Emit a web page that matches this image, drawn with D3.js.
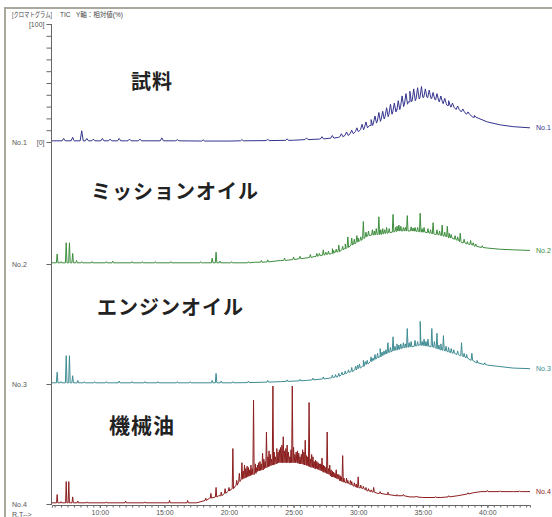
<!DOCTYPE html>
<html>
<head>
<meta charset="utf-8">
<script src="https://cdn.jsdelivr.net/npm/d3@7"></script>
<style>
  body { margin: 0; background: #fff; }
  svg { display: block; font-family: "Liberation Sans", Arial, "Noto Sans CJK JP", sans-serif; }
</style>
</head>
<body>
<div id="chart"></div>
<script>
// ---- data (time in minutes, intensity in relative %) ----
const traceNames = ["No.1", "No.2", "No.3", "No.4"];
const sampleTitles = ["試料", "ミッションオイル", "エンジンオイル", "機械油"];
const majorTicks = [10, 15, 20, 25, 30, 35, 40];
const timeRange = [6.3, 43.3];

// smooth baseline / hump of each trace
const env1 = [[6.3,1],[8,1.2],[12,1],[20,0.8],[25,1.5],[27,2.5],[28.5,4],[30,9],[31,14],[32,20],[33,27],[34,34],[35,38],[36,36],[37,31],[38,26],[39,21],[40,17],[41,14.5],[42,13],[43.3,12]];
const env2 = [[6.3,1],[18,1],[22,1.5],[24,3],[26.5,6],[28,9],[29,13],[30,19],[30.7,24],[31.5,25],[33,28],[34,28],[35,27],[36,25],[37,22],[38,18],[39,15],[40,13.5],[41,12.5],[42,12],[43.3,11.5]];
const env3 = [[6.3,1],[20,1],[24,2],[26,3],[27.8,5],[29.1,9],[30.4,15],[31.7,23],[33,29],[34,32],[34.8,33],[35.5,32],[36.4,29],[37.9,24],[39.2,18],[40,16],[40.8,15],[42,13.5],[43.3,13]];
const env4 = [[6.3,1],[17.5,1],[18.5,5],[19.2,7],[20.1,12],[20.9,20],[21.5,24],[22.2,28],[23,32],[23.7,35],[24.7,35],[25.3,35],[26,33],[26.7,30],[27.3,27],[28,23],[28.6,20],[29.3,17],[29.9,14],[30.7,11],[31.5,9],[32.3,8],[33,7],[34,6],[35,5.5],[36.4,5.5],[37.7,7],[38.9,9.5],[39.5,10.5],[42,10.5],[43.3,10.5]];

// peaks: [time, base %, top %]
const spk1 = [[7.2,1,3],[7.9,1,4],[8.6,1,9.5],[9.0,1,3],[9.5,1,2.5],[10.2,1,3],[10.8,1,2.5],[11.5,1,3],[12.3,1,2.5],[13.1,1,2.5],[14.8,1,3.5],[16,1,2],[18,0.8,1.8],[21,1,2],[23,1.2,2.2],[24.5,1.4,2.6],[26,2,3.5],[27.2,2.6,4.5],[28,3.3,5.5],[28.7,4.5,7],[29.1,5.6,8.5],[29.5,7,10],[29.9,8.7,12],[30.3,10.5,15],[30.6,12,17],[31,14,19],[31.3,16,22],[31.6,17.5,25],[31.9,19.5,26],[32.2,21.5,29],[32.5,23.5,32],[32.8,25.5,33],[33.1,27.5,35],[33.4,30,39],[33.7,32,41],[34,34,43],[34.3,35,45],[34.6,36.5,46],[34.9,37.5,47],[35.2,38,45],[35.5,37.5,44],[35.8,36.5,42],[36.1,35.5,41],[36.4,34,39],[36.7,32.5,37],[37,31,35],[37.3,29.5,33],[37.7,27.5,30.5],[38.1,25.5,28],[38.5,23.5,25.5],[39,21,22.5]];
const spk2 = [[6.7,1,8.5],[7.0,1,2],[7.4,1,18],[7.65,1,18],[7.9,1,9],[8.2,1,3],[8.6,1,2],[9.4,1,2],[10.5,1,2],[11.0,1,2.5],[12.5,1,2],[13.3,1,2],[14.3,1,2],[15.5,1,2],[17.8,1,2],[18.7,1,5],[19.0,1,10],[19.3,1,2.5],[20.2,1,2],[21.5,1,2],[22.5,1.5,3],[23,1.8,3.5],[24.3,3,5],[25,3.8,6],[25.5,4.5,6.5],[26.3,5.5,8],[26.8,6.5,9],[27.3,7.5,12],[27.7,8.3,11],[28,9,13],[28.3,10,12.5],[28.5,10.5,16],[28.8,12,15],[29.2,14,23],[29.5,16,22],[29.9,18.5,24],[30.2,20,23],[30.4,21.5,36],[30.8,24,28],[31.1,24.5,29],[31.4,25,30],[31.6,25,40],[31.9,25.5,30],[32.2,26,31],[32.4,26.5,30],[32.7,27,42],[33,28,32],[33.3,28,32],[33.5,28,31],[33.8,28,41],[34.1,28,31.5],[34.4,27.8,31],[34.8,27.3,43],[35.1,27,31],[35.4,26.5,30],[35.8,25.5,35],[36.1,25,29],[36.5,24,33],[36.9,23,32],[37.2,22,25],[37.5,21,24],[37.9,19,26],[38.2,18,21],[38.7,16.5,20],[39.1,15,17],[39.6,14,15.5],
  [27.0,7,9],[27.5,8,10],[28.1,9.5,11.5],[29.0,13,17],[29.7,17,21],[30.0,19,22],[30.6,23,27],[31.25,24.5,28],[31.75,25,29],[32.05,25.8,29],[32.9,27.5,31],[33.15,28,33],[33.65,28,31],[34.25,28,30.5],[34.6,27.5,31],[34.95,27,30],[35.6,26,29],[36.3,24.5,28],[36.7,23.5,27],[37.05,22.5,26],[37.7,20,23],[38.45,17,19],[38.9,16,18]];
const spk3 = [[6.7,1,10],[7.0,1,2],[7.4,1,24],[7.65,1,24],[7.9,1,7],[8.3,1,3],[8.8,1,2],[9.6,1,2],[10.5,1,2],[11.5,1,2.5],[12.5,1,2],[13.5,1,2],[14.5,1,2],[16,1,2],[17,1,2],[18.7,1,3],[19.0,1,9],[19.4,1,2.5],[20.3,1,2],[21.5,1.2,2.5],[23,1.6,3],[24.5,2.2,3.5],[25.5,2.7,4],[26.5,3.5,5],[27.3,4.3,6],[28,5.3,7.5],[28.5,6.5,9],[29,8.5,11],[29.5,10.5,14],[29.8,12,15],[30.1,13.5,17],[30.4,15,20],[30.7,17,20],[31,19,23],[31.3,21,25],[31.7,23,30],[32,25,28],[32.3,26.5,35],[32.5,27,31],[32.7,28,40],[33,29,34],[33.3,30,34],[33.5,30.5,35],[33.8,31,47],[34.1,31.5,36],[34.4,32,37],[34.8,33,53],[35.1,32.5,38],[35.4,32,38],[35.7,31.5,47],[36.1,30,43],[36.4,29,34],[36.6,28.5,41],[37,27,31],[37.4,26,29],[38,24,35],[38.4,22,25],[38.8,20,26],[39.2,18,20],[39.8,16.5,18],
  [28.25,5.8,8],[28.75,7.8,10],[29.25,9.8,12],[29.95,13,16],[30.55,16.5,19],[31.15,20,22],[31.5,22,26],[31.85,24,27],[32.15,25.5,29],[32.85,28.7,32],[33.15,29.3,33],[33.65,30.7,34],[33.95,31.3,35],[34.6,32.5,36],[34.95,32.7,36],[35.25,32.2,36],[35.9,31,36],[36.25,29.5,33],[36.8,28,32],[37.2,26.5,30],[37.7,25,28],[38.2,23,26]];
const spk4 = [[6.7,1,8],[7.0,1,2],[7.4,1,19],[7.6,1,19],[7.9,1,6],[8.3,1,2.5],[9,1,1.8],[10.5,1,1.8],[12,1,2.5],[13.5,1,1.8],[15.4,1,3],[16.8,1,3],[18.2,3,5],[18.6,5,9],[19,6,14],[19.4,7,10],[19.7,9,13],[20,11,14],[20.3,13,47],[20.6,16,20],[21,21,35],[21.2,22,33],[21.4,23,32],[21.6,24,29],[21.9,25,88],[22.2,28,33],[22.4,28.5,36],[22.6,29,43],[22.9,31,61],[23.1,32,45],[23.4,33,100],[23.6,34,40],[23.8,35,44],[24,35,48],[24.2,35,57],[24.3,35,45],[24.5,35,50],[24.7,35,40],[24.9,35,100],[25.1,35,42],[25.3,35,45],[25.5,34,40],[25.7,34,46],[25.9,33,54],[26.2,32,86],[26.5,31,40],[26.8,30,36],[27,29,34],[27.2,28,39],[27.4,27,32],[27.6,26,61],[27.8,25,33],[28,23,28],[28.3,22,29],[28.5,21,25],[28.8,19,41],[29.1,18,22],[29.4,17,20],[29.7,15,18],[30,14,23],[30.4,13,15],[30.8,11,13],[31.2,10,14],[31.7,9,10.5],[32.3,8,10],[33,7,8],[33.5,7,8],[34.5,6,6.8],[36,5.5,6.3],[37,6,7],[38.5,8.5,9.5],[40,10.5,11.5],[41,10.5,11.2],[42.5,10.5,11.2],
  [20.8,19,26],[21.1,21.5,28],[21.3,22.5,30],[21.5,23.5,31],[21.7,24.5,33],[21.8,25,30],[22.05,26,34],[22.1,27,31],[22.3,28,35],[22.5,28.7,34],[22.7,30,38],[22.8,30.5,36],[23.0,31.5,40],[23.2,32.5,42],[23.3,33,38],[23.5,33.5,44],[23.7,34.5,47],[23.9,35,46],[24.1,35,50],[24.4,35,47],[24.6,35,44],[24.8,35,46],[25.0,35,48],[25.2,35,44],[25.4,34.5,43],[25.6,34,42],[25.8,33.5,44],[26.0,33,41],[26.1,32.5,40],[26.3,31.5,38],[26.4,31,42],[26.6,30.5,36],[26.7,30,37],[26.9,29.5,35],[27.1,28.5,34],[27.3,27.5,33],[27.5,26.5,31],[27.7,25.5,30],[27.9,24,29],[28.1,23,27],[28.2,22.5,26],[28.4,21.5,25],[28.6,20,24],[28.7,19.5,23],[28.9,18.5,22],[29.2,17.5,20],[29.5,16,19],[29.85,14.5,17],[30.2,13.5,16],[30.6,12,14],[31,10.5,12]];

const envelopes = [env1, env2, env3, env4];
const peaks = [spk1, spk2, spk3, spk4];

// ---- layout ----
const W = 552, H = 517;
const colors = ["#34348e", "#3d8d3d", "#3e8c93", "#8c1e1e"];
const peakHalfWidth = [0.12, 0.06, 0.06, 0.05];
const panelBase = [142, 264, 384, 504];
const panelH = 118;
const axisY = 505;

const svg = d3.select('#chart').append('svg')
  .attr('width', W).attr('height', H);

// window frame
svg.append('line').attr('x1', 4).attr('x2', W).attr('y1', 8).attr('y2', 8)
  .attr('stroke', '#aaa79d').attr('stroke-width', 2);
svg.append('line').attr('x1', 5).attr('x2', 5).attr('y1', 8).attr('y2', H)
  .attr('stroke', '#aaa79d').attr('stroke-width', 2);

// header
const head = svg.append('g').attr('font-size', 6.5).attr('fill', '#444');
head.append('text').attr('x', 12).attr('y', 16.5).attr('textLength', 40)
  .attr('lengthAdjust', 'spacingAndGlyphs').text('[クロマトグラム]');
head.append('text').attr('x', 60).attr('y', 16.5).text('TIC');
head.append('text').attr('x', 76).attr('y', 16.5).text('Y軸：相対値(%)');

const x = d3.scaleLinear().domain(timeRange).range([52, 530]);

// x axis: minor then major ticks
const minor = svg.append('g').attr('transform', `translate(0,${axisY})`)
  .call(d3.axisBottom(x).tickValues(d3.range(6.5, 43.3, 0.5)).tickSize(2.5).tickFormat(''));
minor.select('.domain').attr('stroke', '#666');
minor.selectAll('.tick line').attr('stroke', '#666');

const major = svg.append('g').attr('transform', `translate(0,${axisY})`)
  .call(d3.axisBottom(x).tickValues(majorTicks).tickSize(3).tickPadding(2)
    .tickFormat(d => d + ':00'));
major.select('.domain').remove();
major.selectAll('.tick line').attr('stroke', '#666');
major.selectAll('.tick text').attr('font-size', 7).attr('fill', '#555')
  .attr('font-family', '"Liberation Sans", Arial, sans-serif');

// vertical axis line through all panels
svg.append('line').attr('x1', 51.5).attr('x2', 51.5)
  .attr('y1', panelBase[0] - panelH).attr('y2', axisY)
  .attr('stroke', '#666');

// big sample titles
const titlePos = [[131, 89, 20], [91, 199, 20], [97, 315, 20], [109, 433, 21]];

panelBase.forEach((base, i) => {
  const y = d3.scaleLinear().domain([0, 100]).range([base, base - panelH]);

  // left ticks
  const ax = svg.append('g').attr('transform', 'translate(51.5,0)');
  if (i === 0) {
    ax.call(d3.axisLeft(y).tickValues(d3.range(0, 101, 10)).tickSize(5).tickPadding(2)
      .tickFormat(d => d === 100 ? '[100]' : d === 0 ? '[0]' : ''));
  } else {
    ax.call(d3.axisLeft(y).tickValues([0]).tickSize(5).tickFormat(''));
  }
  ax.select('.domain').remove();
  ax.selectAll('.tick line').attr('stroke', '#666');
  ax.selectAll('.tick text').attr('font-size', 7).attr('fill', '#555')
    .attr('font-family', '"Liberation Sans", Arial, sans-serif');

  svg.append('text').attr('x', 12).attr('y', base + 3)
    .attr('font-size', 7).attr('fill', '#555').text(traceNames[i]);

  // merge baseline and peaks into one trace
  const hw = peakHalfWidth[i];
  const pts = envelopes[i].slice();
  peaks[i].forEach(p => {
    pts.push([p[0] - hw, p[1]], [p[0], p[2]], [p[0] + hw, p[1]]);
  });
  pts.sort((a, b) => a[0] - b[0]);

  const line = d3.line().x(d => x(d[0])).y(d => y(d[1]));
  svg.append('path').datum(pts)
    .attr('d', line)
    .attr('fill', 'none')
    .attr('stroke', colors[i])
    .attr('stroke-width', 1)
    .attr('stroke-linejoin', 'round');

  const last = envelopes[i][envelopes[i].length - 1];
  svg.append('text').attr('x', x(last[0]) + 6).attr('y', y(last[1]) + 2.5)
    .attr('font-size', 7).attr('fill', colors[i]).text(traceNames[i]);

  const tp = titlePos[i];
  svg.append('text').attr('x', tp[0]).attr('y', tp[1])
    .attr('font-family', '"Noto Sans CJK JP", sans-serif')
    .attr('font-weight', 700).attr('font-size', tp[2])
    .attr('letter-spacing', 1).attr('fill', '#222')
    .text(sampleTitles[i]);
});

svg.append('text').attr('x', 12).attr('y', 516.5)
  .attr('font-size', 7).attr('fill', '#555').text('R.T-->');
</script>
</body>
</html>
